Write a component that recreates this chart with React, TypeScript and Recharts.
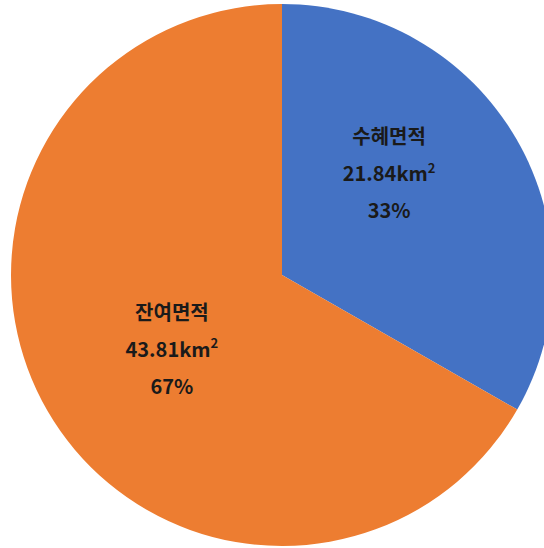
import React from 'react';
import { PieChart, Pie, Cell } from 'recharts';

const names = ['수혜면적', '잔여면적'];
const areas = [21.84, 43.81];
const colors = ['#4472C4', '#ED7D31'];

const data = names.map((name, i) => ({ name, value: areas[i] }));

const RAD = Math.PI / 180;
// small per-slice nudges so labels sit where the original best-fit put them
const nudge = [
  { dx: -14, dy: -32 },
  { dx: 11, dy: 3 },
];

const renderLabel = (props: any) => {
  const { cx, cy, midAngle, percent, index, name, value } = props;
  const r = 140;
  const x = cx + r * Math.cos(-midAngle * RAD) + nudge[index].dx;
  const y = cy + r * Math.sin(-midAngle * RAD) + nudge[index].dy;
  const style = {
    fontFamily: '"Noto Sans CJK KR", "Noto Sans", sans-serif',
    fontWeight: 700,
    fontSize: 20,
    fill: '#1a1a1a',
  };
  return (
    <g>
      <text x={x} y={y - 37} textAnchor="middle" dominantBaseline="central" style={style}>
        {name}
      </text>
      <text x={x} y={y} textAnchor="middle" dominantBaseline="central" style={style}>
        {value.toFixed(2)}km
        <tspan fontSize={13} dy={-6}>2</tspan>
      </text>
      <text x={x} y={y + 37} textAnchor="middle" dominantBaseline="central" style={style}>
        {Math.round(percent * 100)}%
      </text>
    </g>
  );
};

export default function App() {
  return (
    <>
      <style>{'html,body{margin:0;padding:0;overflow:hidden;background:#fff}'}</style>
      <PieChart width={544} height={548} margin={{ top: 0, right: 0, bottom: 0, left: 0 }}>
        <Pie
          data={data}
          dataKey="value"
          nameKey="name"
          cx={282}
          cy={275}
          outerRadius={271}
          startAngle={90}
          endAngle={-270}
          stroke="none"
          labelLine={false}
          label={renderLabel}
          isAnimationActive={false}
        >
          {data.map((entry, index) => (
            <Cell key={`cell-${index}`} fill={colors[index]} />
          ))}
        </Pie>
      </PieChart>
    </>
  );
}
